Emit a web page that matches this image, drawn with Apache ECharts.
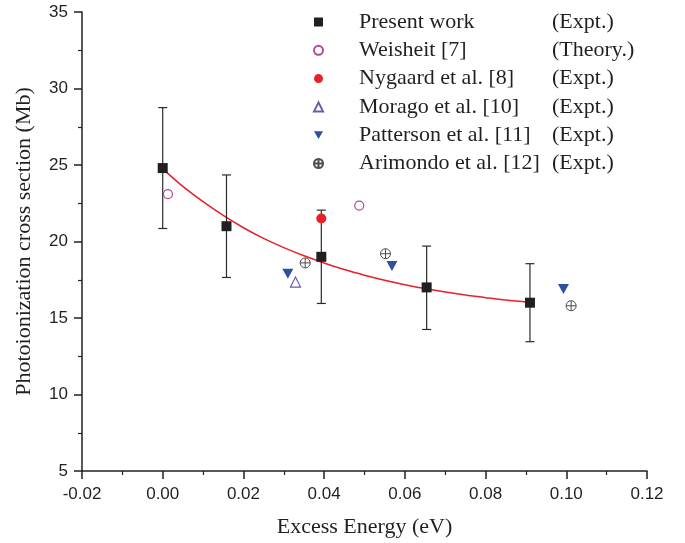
<!DOCTYPE html>
<html lang="en">
<head>
<meta charset="UTF-8">
<style>
html, body { height: 100%; margin: 0; background: #fff; }
</style>
</head>
<body>
<div id="chart" style="width:685px;height:543px;"></div>
<script src="https://cdn.jsdelivr.net/npm/echarts@6/dist/echarts.min.js"></script>
<script>
// values
var presentX = [0.0, 0.0158, 0.0393, 0.0654, 0.0910];
var presentY = [24.8, 21.0, 19.0, 17.0, 16.0];
var presentLow = [20.85, 17.65, 15.95, 14.25, 13.45];
var presentHigh = [28.75, 24.35, 22.05, 19.7, 18.55];

var weisheit = [[0.0013, 23.1], [0.0487, 22.35]];
var nygaard = [[0.0393, 21.5]];
var morago = [[0.0329, 17.35]];
var patterson = [[0.0310, 17.9], [0.0568, 18.4], [0.0993, 16.9]];
var arimondo = [[0.0353, 18.6], [0.0552, 19.2], [0.1012, 15.8]];

// red fit curve, read at regular steps along the line
var fitX = [0, 0.005, 0.01, 0.015, 0.02, 0.025, 0.03, 0.035, 0.04, 0.045, 0.05, 0.055, 0.06, 0.065, 0.07, 0.075, 0.08, 0.085, 0.091];
var fitY = [24.75, 23.6, 22.6, 21.7, 20.9, 20.2, 19.6, 19.07, 18.6, 18.17, 17.8, 17.47, 17.18, 16.93, 16.7, 16.5, 16.33, 16.17, 16.02];

var legendNames = ['Present work', 'Weisheit [7]', 'Nygaard et al. [8]', 'Morago et al. [10]', 'Patterson et al. [11]', 'Arimondo et al. [12]'];
var legendKinds = ['(Expt.)', '(Theory.)', '(Expt.)', '(Expt.)', '(Expt.)', '(Expt.)'];

var presentData = [], errData = [], fitData = [];
for (var i = 0; i < presentX.length; i++) {
    presentData.push([presentX[i], presentY[i]]);
    errData.push([presentX[i], presentLow[i], presentHigh[i]]);
}
for (var j = 0; j < fitX.length; j++) fitData.push([fitX[j], fitY[j]]);

var serif = '"Liberation Serif", "DejaVu Serif", serif';
var sans = '"Liberation Sans", Arial, sans-serif';
var ink = '#231f20';

var myChart = echarts.init(document.getElementById('chart'));
myChart.setOption({
    animation: false,
    grid: { left: 82, right: 38, top: 12, bottom: 71 },
    legend: {
        data: legendNames,
        orient: 'vertical',
        left: 308,
        top: 6,
        itemWidth: 9,
        itemHeight: 9,
        itemGap: 6.3,
        formatter: function (name) {
            return '{a|' + name + '}{b|' + legendKinds[legendNames.indexOf(name)] + '}';
        },
        textStyle: {
            rich: {
                a: { fontFamily: serif, fontSize: 22, color: ink, width: 193, padding: [0, 0, 0, 31], lineHeight: 22 },
                b: { fontFamily: serif, fontSize: 22, color: ink, lineHeight: 22 }
            }
        }
    },
    xAxis: {
        type: 'value',
        min: -0.02, max: 0.12, interval: 0.02,
        name: 'Excess Energy (eV)',
        nameLocation: 'middle',
        nameGap: 45,
        nameTextStyle: { fontFamily: serif, fontSize: 22, color: ink },
        axisLine: { onZero: false, lineStyle: { color: ink, width: 1.5 } },
        axisTick: { length: 8, lineStyle: { color: ink, width: 1.5 } },
        minorTick: { show: true, splitNumber: 2, length: 4, lineStyle: { color: ink, width: 1.2 } },
        axisLabel: { margin: 15, fontFamily: sans, fontSize: 17, color: ink,
            formatter: function (v) { return v.toFixed(2); } },
        splitLine: { show: false }
    },
    yAxis: {
        type: 'value',
        min: 5, max: 35, interval: 5,
        name: 'Photoionization cross section (Mb)',
        nameLocation: 'middle',
        nameGap: 47,
        nameTextStyle: { fontFamily: serif, fontSize: 22, color: ink },
        axisLine: { show: true, onZero: false, lineStyle: { color: ink, width: 1.5 } },
        axisTick: { show: true, length: 8, lineStyle: { color: ink, width: 1.5 } },
        minorTick: { show: true, splitNumber: 2, length: 4, lineStyle: { color: ink, width: 1.2 } },
        axisLabel: { margin: 14, fontFamily: sans, fontSize: 17, color: ink },
        splitLine: { show: false }
    },
    series: [
        {
            name: 'fit',
            type: 'line',
            data: fitData,
            smooth: 0.3,
            showSymbol: false,
            lineStyle: { color: '#e8202a', width: 1.5 },
            z: 1
        },
        {
            name: 'errorbars',
            type: 'custom',
            data: errData,
            encode: { x: 0, y: [1, 2] },
            z: 2,
            renderItem: function (params, api) {
                var x = api.value(0);
                var top = api.coord([x, api.value(2)]);
                var bot = api.coord([x, api.value(1)]);
                var w = 4.5;
                var st = { stroke: '#2b2b2b', lineWidth: 1.2 };
                return {
                    type: 'group',
                    children: [
                        { type: 'line', shape: { x1: top[0], y1: top[1], x2: bot[0], y2: bot[1] }, style: st },
                        { type: 'line', shape: { x1: top[0] - w, y1: top[1], x2: top[0] + w, y2: top[1] }, style: st },
                        { type: 'line', shape: { x1: bot[0] - w, y1: bot[1], x2: bot[0] + w, y2: bot[1] }, style: st }
                    ]
                };
            }
        },
        {
            name: 'Present work',
            type: 'scatter',
            data: presentData,
            symbol: 'rect',
            symbolSize: 10,
            itemStyle: { color: ink, opacity: 1 },
            z: 5
        },
        {
            name: 'Weisheit [7]',
            type: 'scatter',
            data: weisheit,
            symbol: 'circle',
            symbolSize: 9,
            itemStyle: { color: '#fff', borderColor: '#b0479a', borderWidth: 1.2, opacity: 1 },
            z: 4
        },
        {
            name: 'Nygaard et al. [8]',
            type: 'scatter',
            data: nygaard,
            symbol: 'circle',
            symbolSize: 10,
            itemStyle: { color: '#e8202a', opacity: 1 },
            z: 4
        },
        {
            name: 'Morago et al. [10]',
            type: 'scatter',
            data: morago,
            symbol: 'triangle',
            symbolSize: 10,
            itemStyle: { color: '#fff', borderColor: '#6d5aa8', borderWidth: 1.2, opacity: 1 },
            z: 4
        },
        {
            name: 'Patterson et al. [11]',
            type: 'scatter',
            data: patterson,
            symbol: 'path://M0,0 L10,0 L5,8.7 Z',
            symbolSize: [11, 10],
            itemStyle: { color: '#2f4fa2', opacity: 1 },
            z: 4
        },
        {
            name: 'Arimondo et al. [12]',
            type: 'scatter',
            data: arimondo,
            symbol: 'path://M0,-10 A10,10 0 1,1 0,10 A10,10 0 1,1 0,-10 Z M-10,0 L10,0 M0,-10 L0,10',
            symbolSize: 10,
            itemStyle: { color: 'rgba(0,0,0,0)', borderColor: '#4d4d4d', borderWidth: 1, opacity: 1 },
            z: 4
        }
    ]
});
</script>
</body>
</html>
